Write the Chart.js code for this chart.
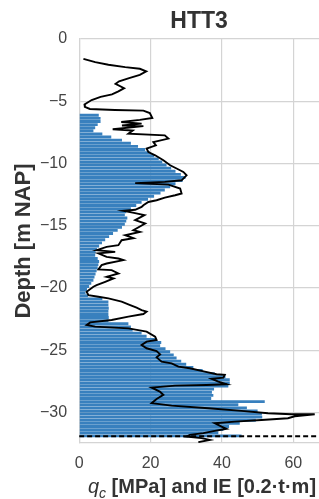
<!DOCTYPE html>
<html><head><meta charset="utf-8">
<script src="https://cdn.jsdelivr.net/npm/chart.js@4"></script>
<style>html,body{margin:0;padding:0;background:#fff}#wrap{width:319px;height:499px;position:relative}</style>
</head><body><div id="wrap"><canvas id="c"></canvas></div>
<script>
const chartTitle = 'HTT3';
const yAxisTitle = 'Depth [m NAP]';
const xTitleSymbol = 'q';
const xTitleSub = 'c';
const xTitleRest = ' [MPa] and IE [0.2\u00b7t\u00b7m]';
const xTicks = [0, 20, 40, 60];
const yTicks = [0, -5, -10, -15, -20, -25, -30];

// IE bars (depth in m NAP, value in 0.2 t·m)
const ieDepths = [-6.125,-6.375,-6.625,-6.875,-7.125,-7.375,-7.625,-7.875,-8.125,-8.375,
 -8.625,-8.875,-9.125,-9.375,-9.625,-9.875,-10.125,-10.375,-10.625,-10.875,
 -11.125,-11.375,-11.625,-11.875,-12.125,-12.375,-12.625,-12.875,-13.125,-13.375,
 -13.625,-13.875,-14.125,-14.375,-14.625,-14.875,-15.125,-15.375,-15.625,-15.875,
 -16.125,-16.375,-16.625,-16.875,-17.125,-17.375,-17.625,-17.875,-18.125,-18.375,
 -18.625,-18.875,-19.125,-19.375,-19.625,-19.875,-20.125,-20.375,-20.625,-20.875,
 -21.125,-21.375,-21.625,-21.875,-22.125,-22.375,-22.625,-22.875,-23.125,-23.375,
 -23.625,-23.875,-24.125,-24.375,-24.625,-24.875,-25.125,-25.375,-25.625,-25.875,
 -26.125,-26.375,-26.625,-26.875,-27.125,-27.375,-27.625,-27.875,-28.125,-28.375,
 -28.625,-28.875,-29.125,-29.375,-29.625,-29.875,-30.125,-30.375,-30.625,-30.875,
 -31.125,-31.375,-31.625,-31.875];
const ieValues = [5.5,6.0,6.0,5.2,4.5,4.0,6.5,9.0,12.0,14.5,
 16.5,18.5,19.8,21.0,22.3,23.3,24.5,25.8,27.0,28.5,
 29.8,29.0,27.0,25.5,24.0,22.8,21.0,19.3,17.5,16.0,
 14.5,13.2,12.8,13.5,13.2,12.8,12.0,10.8,9.5,8.4,
 7.3,6.4,5.6,5.0,4.6,4.5,5.2,5.6,5.4,5.2,
 4.9,4.6,4.3,4.0,3.4,2.8,2.2,1.8,2.5,6.5,
 8.2,8.2,8.3,8.2,8.2,8.3,8.2,13.8,14.5,15.0,
 17.5,18.9,21.5,23.0,22.7,24.2,25.5,26.5,27.3,28.6,
 30.0,32.0,34.6,38.0,41.0,42.2,42.2,41.8,37.8,37.2,
 37.6,37.0,52.0,44.6,47.0,50.0,51.2,51.3,49.5,45.0,
 42.0,40.4,39.0,45.5];

// CPT cone resistance qc (MPa) against depth
const qcDepths = [-1.59,-1.86,-2.07,-2.26,-2.39,-2.6,-2.88,-3.15,-3.4,-3.6,
 -3.95,-4.2,-4.45,-4.65,-4.9,-5.25,-5.45,-5.62,-5.7,-5.75,
 -5.95,-6.35,-6.5,-6.67,-6.8,-6.95,-7.0,-7.25,-7.35,-7.6,
 -7.74,-8.0,-8.28,-8.54,-8.8,-9.08,-9.34,-9.74,-10.14,-10.4,
 -10.68,-10.95,-11.35,-11.48,-11.58,-11.7,-12.01,-12.41,-12.55,-12.74,
 -12.95,-13.09,-13.35,-13.49,-13.72,-13.8,-13.95,-14.15,-14.55,-14.82,
 -15.36,-15.5,-15.76,-16.0,-16.16,-16.56,-16.7,-16.96,-17.1,-17.22,
 -17.5,-17.63,-17.76,-18.03,-18.16,-18.5,-18.56,-18.83,-19.1,-19.23,
 -19.5,-19.77,-19.9,-20.3,-20.57,-20.7,-20.83,-21.1,-21.37,-21.58,
 -21.77,-21.9,-22.09,-22.3,-22.57,-22.76,-22.97,-23.1,-23.24,-23.5,
 -23.91,-24.18,-24.31,-24.58,-24.84,-25.06,-25.33,-25.57,-25.92,-26.05,
 -26.32,-26.45,-26.72,-26.93,-26.98,-27.2,-27.3,-27.52,-27.73,-27.79,
 -27.84,-28.0,-28.32,-28.59,-28.91,-29.25,-29.45,-29.66,-29.87,-30.06,
 -30.14,-30.14,-30.3,-30.46,-30.6,-30.73,-30.86,-31.13,-31.31,-31.48,
 -31.66,-31.8,-31.93,-32.06,-32.2,-32.38];
const qcValues = [1.2,4.5,8.2,12.9,17.0,18.8,17.0,14.0,11.2,10.2,
 12.6,11.0,9.2,6.0,3.5,1.5,1.6,3.0,10.0,18.0,
 19.8,20.5,17.0,11.8,17.5,12.0,18.0,9.4,15.0,13.8,
 24.0,25.0,20.8,21.5,18.9,19.4,21.3,23.6,25.5,27.3,
 29.2,30.1,28.7,24.0,15.7,25.0,28.3,28.7,26.9,24.0,
 21.7,19.4,18.0,17.5,15.7,12.4,15.0,18.3,15.7,18.5,
 15.2,17.0,12.9,15.2,11.9,11.0,7.7,4.9,10.1,5.4,
 7.7,11.0,12.4,7.7,6.3,5.4,9.1,11.0,7.7,9.6,
 7.3,4.9,4.0,2.1,2.6,5.4,8.2,11.9,14.3,16.1,
 17.5,18.9,18.0,13.8,9.1,3.1,2.1,4.5,13.8,18.9,
 21.3,21.7,18.9,17.5,18.9,21.7,22.7,21.7,23.1,25.9,
 27.8,31.0,35.2,38.5,40.8,40.4,37.1,39.0,41.3,35.7,
 26.9,20.3,22.6,23.6,21.7,20.3,25.9,36.2,45.5,52.9,
 59.5,66.0,60.4,58.5,51.1,43.6,38.0,39.9,41.3,38.0,
 34.8,31.0,30.1,34.3,36.6,33.4];

const dashDepth = -31.9;
const xRange = [0, 67.2];
const yRange = [-32.45, 0];

const FAMILY = '"Liberation Sans", Arial, Helvetica, sans-serif';
const GRID = '#d4d4d4';

const xTitlePlugin = {
  id: 'xTitle',
  afterDraw(chart) {
    const ctx = chart.ctx;
    const parts = [
      {t: xTitleSymbol, font: 'italic 20px ' + FAMILY, dy: 0},
      {t: xTitleSub, font: 'italic 14px ' + FAMILY, dy: 5},
      {t: xTitleRest, font: 'bold 20px ' + FAMILY, dy: 0}
    ];
    ctx.save();
    let total = 0;
    parts.forEach(p => { ctx.font = p.font; p.w = ctx.measureText(p.t).width; total += p.w; });
    let x = 202 - total / 2;
    const base = chart.height - 6;
    ctx.fillStyle = '#333';
    ctx.textBaseline = 'alphabetic';
    ctx.textAlign = 'left';
    parts.forEach(p => { ctx.font = p.font; ctx.fillText(p.t, x, base + p.dy); x += p.w; });
    ctx.restore();
  }
};

const minus = v => v < 0 ? '\u2212' + Math.abs(v) : String(v);

new Chart(document.getElementById('c'), {
  type: 'bar',
  data: {
    datasets: [
      {
        type: 'line',
        label: 'qc',
        data: qcValues.map((v, i) => ({x: v, y: qcDepths[i]})),
        borderColor: '#000',
        borderWidth: 1.9,
        pointRadius: 0,
        tension: 0,
        fill: false,
        order: 0
      },
      {
        type: 'line',
        label: 'level',
        data: [{x: xRange[0], y: dashDepth}, {x: xRange[1], y: dashDepth}],
        borderColor: '#000',
        borderWidth: 2,
        borderDash: [5, 3],
        pointRadius: 0,
        fill: false,
        order: 0
      },
      {
        type: 'bar',
        label: 'IE',
        data: ieValues.map((v, i) => ({x: v, y: ieDepths[i]})),
        backgroundColor: '#3880be',
        borderWidth: 0,
        barPercentage: 1,
        categoryPercentage: 0.93,
        order: 1
      }
    ]
  },
  options: {
    indexAxis: 'y',
    responsive: true,
    maintainAspectRatio: false,
    animation: false,
    layout: {padding: {left: 8, right: 0, top: 0, bottom: 14.8}},
    plugins: {
      legend: {display: false},
      tooltip: {enabled: false},
      title: {
        display: true,
        text: chartTitle,
        fullSize: false,
        color: '#333',
        font: {family: FAMILY, size: 23, weight: 'bold'},
        padding: {top: 8, bottom: 3.4}
      }
    },
    scales: {
      x: {
        type: 'linear',
        min: xRange[0],
        max: xRange[1],
        offset: false,
        afterBuildTicks: s => { s.ticks = xTicks.map(v => ({value: v})); },
        ticks: {color: '#444', font: {family: FAMILY, size: 16}, padding: 11, callback: minus},
        grid: {color: GRID, lineWidth: 1.2, drawTicks: false, offset: false},
        border: {color: GRID, width: 1.2}
      },
      y: {
        type: 'linear',
        min: yRange[0],
        max: yRange[1],
        offset: false,
        afterBuildTicks: s => { s.ticks = yTicks.map(v => ({value: v})); },
        ticks: {color: '#444', font: {family: FAMILY, size: 16}, padding: 12, callback: minus},
        grid: {color: GRID, lineWidth: 1.2, drawTicks: false, offset: false},
        border: {color: GRID, width: 1.2},
        title: {
          display: true,
          text: yAxisTitle,
          color: '#333',
          font: {family: FAMILY, size: 22, weight: 'bold'},
          padding: {top: 2.8, bottom: -9.2}
        }
      }
    }
  },
  plugins: [xTitlePlugin]
});
</script>
</body></html>
